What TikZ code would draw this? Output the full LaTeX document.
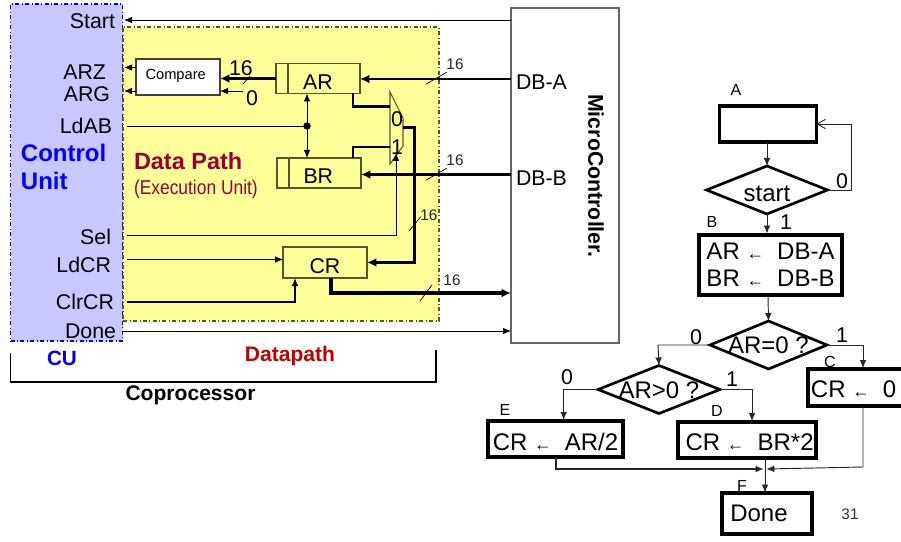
\documentclass[tikz,border=0pt]{standalone}
\usepackage{fontspec}
\usepackage{graphicx}
\setmainfont{Liberation Sans}
\usetikzlibrary{arrows.meta,shapes.geometric}
\definecolor{cuFill}{HTML}{C8C8FF}
\definecolor{dpFill}{HTML}{FFFF99}
\definecolor{olive}{HTML}{55552F}
\definecolor{dpRed}{HTML}{990033}
\definecolor{dpRedB}{HTML}{C00000}
\definecolor{cuBlue}{HTML}{0000FF}
\newcommand{\lar}{{\fontsize{13}{13}\selectfont ←}}
\newcommand{\low}[2]{\smash{\raisebox{-#1pt}{#2}}}
\newcommand{\dectext}[2]{\smash{\makebox[0pt]{\raisebox{-#1pt}{#2}}}}
\tikzset{
  sz/.style 2 args={minimum width=#1*0.75pt,minimum height=#2*0.75pt,inner sep=0pt,outer sep=0pt},
  lbl/.style={inner sep=0pt,outer sep=0pt,font=\fontsize{16}{16}\selectfont},
  lblr/.style={lbl,anchor=east},
  lbll/.style={lbl,anchor=west},
  tiny16/.style={inner sep=0pt,font=\fontsize{11.5}{12}\selectfont,text=black!85},
  letter/.style={inner sep=0pt,font=\fontsize{12}{12}\selectfont},
  dpbox/.style={draw=olive,line width=0.8pt,fill=dpFill,font=\fontsize{16}{16}\selectfont},
  fcbox/.style={draw=black,line width=2.3pt,fill=white,font=\fontsize{18}{20}\selectfont,align=center},
  dec/.style={diamond,draw=black,line width=2pt,fill=white,inner sep=0pt,outer sep=0pt,aspect=2.4,font=\fontsize{18}{18}\selectfont},
  thin1/.style={line width=0.7pt,draw=black},
  bus/.style={line width=2pt,draw=black},
  arr/.style={-{Latex[length=6pt,width=5pt]}},
  busarr/.style={-{Latex[length=7pt,width=6.5pt]}},
  tick/.style={line width=0.5pt,draw=black},
  fcflow/.style={line width=0.7pt,draw=black!85}
}
\begin{document}
\begin{tikzpicture}[x=0.75pt,y=-0.75pt]
\useasboundingbox (0,0) rectangle (901,542);
% regions
\node[sz={112}{337},draw=cuBlue,fill=cuFill,dash dot,line width=0.8pt] (cu) at (66.5,172.5) {};
\node[sz={316}{294},draw=olive,fill=dpFill,dash dot,line width=0.9pt] (dp) at (281,174) {};
\node[sz={108}{335},draw=black!60,fill=white,line width=1pt] (mc) at (565,175.5) {};
\node[rotate=-90,font=\fontsize{16}{16}\selectfont\bfseries,inner sep=0pt] (mctext) at (596,176) {MicroController.};
% datapath boxes
\node[sz={84}{36},draw=black!75,fill=white,line width=0.8pt,font=\fontsize{11}{11}\selectfont] (cmp) at (178,77) {\low{1.7}{\kern-3.5pt Compare}};
\node[sz={84}{30},dpbox] (ar) at (318,78.5) {\low{8}{AR}};
\node[sz={84}{30},dpbox] (br) at (319,173) {\low{8}{\kern-1pt BR}};
\node[sz={84}{31},dpbox] (cr) at (325,262.5) {\low{8}{CR}};
\draw[olive,line width=0.8pt] (288,63.5) -- (288,93.5);
\draw[olive,line width=0.8pt] (289,158) -- (289,188);
% mux
\coordinate (m1) at (390,92);
\coordinate (m2) at (403,118);
\coordinate (m3) at (403,146);
\coordinate (m4) at (390,164);
\draw[olive,line width=0.8pt,fill=dpFill] (m1) -- (m2) -- (m3) -- (m4) -- cycle;
\node[lbl] (m0t) at (397,119) {0};
\node[lbl] (m1t) at (397,147) {1};
\coordinate (mIn0) at (390,106.5);
\coordinate (mIn1) at (390,147);
\coordinate (mOut) at (403,127.5);
\coordinate (mSel) at (396,153);
% MC ports
\coordinate (pStart) at (511,20);
\coordinate (pA) at (511,79);
\coordinate (pB) at (511,174.5);
\coordinate (pC) at (511,293);
\coordinate (pD) at (511,331);
% left-side signal ends
\coordinate (sStart) at (124,20);
\coordinate (sArz) at (124,67.5);
\coordinate (sArg) at (124,91);
\coordinate (sLd) at (127,126);
\coordinate (sSel) at (127,235);
\coordinate (sLdc) at (127,259.5);
\coordinate (sClr) at (127,302);
\coordinate (sDone) at (123,331);
% signals
\draw[thin1,arr] (pStart) -- (sStart);
\draw[thin1,arr] (cmp.west |- sArz) -- (sArz);
\draw[thin1,arr] (cmp.west |- sArg) -- (sArg);
\draw[bus,busarr] (ar.west) -- (cmp.east |- ar.west);
\coordinate (zero) at (243,91);
\draw[thin1,arr] (zero) -- (cmp.east |- zero);
\coordinate (t0a) at (243,84); \coordinate (t0b) at (250,76);
\draw[tick] (t0a) -- (t0b);
\coordinate (dot) at (307,126);
\draw[thin1] (sLd) -- (dot);
\fill (dot) circle (3.7);
\draw[thin1,arr] (dot) -- (dot |- ar.south);
\draw[thin1,arr] (dot) -- (dot |- br.north);
\draw[bus,busarr] (pA) -- (pA -| ar.east);
\draw[bus,busarr] (pB) -- (pB -| br.east);
\draw[bus] (353,93.5) -- (353,106.5) -- (mIn0);
\draw[bus] (353,158) -- (353,147) -- (mIn1);
\draw[thin1,arr] (sSel) -- (396,235) -- (mSel);
\draw[line width=2.6pt,draw=black,busarr] (mOut) -- (414.5,127.5) |- (cr.east);
\draw[thin1,arr] (sLdc) -- (sLdc -| cr.west);
\draw[line width=1.1pt,draw=black,arr] (sClr) -- (295,302) -- (295,278);
\draw[line width=2.4pt,draw=black,busarr] (331,278) |- (pC);
\draw[thin1,arr] (sDone) -- (pD);
% ticks
\draw[tick] (425.7,84.3) -- (446.7,72.3);
\draw[tick] (425.7,180.3) -- (446.7,168.3);
\draw[tick] (409,231) -- (420.7,216.7);
\draw[tick] (420,301) -- (432,285);
\node[tiny16] (n1) at (455,64) {16};
\node[tiny16] (n2) at (455,160) {16};
\node[tiny16] (n3) at (429,215.5) {16};
\node[tiny16] (n4) at (452,280) {16};
\node[lbl] (n5) at (241,68) {16};
\node[lbl] (n6) at (252,98) {0};
% left labels
\node[lblr] (lStart) at (115,21.5) {Start};
\node[lblr] (lArz) at (106,72) {ARZ};
\node[lblr] (lArg) at (110,94) {ARG};
\node[lblr] (lLd) at (112,126) {LdAB};
\node[lblr] (lSel) at (111,237) {Sel};
\node[lblr] (lLdc) at (111,265) {LdCR};
\node[lblr] (lClr) at (114,301.5) {ClrCR};
\node[lblr] (lDone) at (116,331.5) {Done};
\node[lbll,font=\fontsize{18}{18}\selectfont\bfseries,text=cuBlue] (c1) at (21,153) {Control};
\node[lbll,font=\fontsize{18}{18}\selectfont\bfseries,text=cuBlue] (c2) at (21,181) {Unit};
\node[lbll,font=\fontsize{17.6}{18}\selectfont\bfseries,text=dpRed] (d1) at (134,161) {Data Path};
\node[lbll,text=dpRed,font=\fontsize{15}{15}\selectfont] (d2) at (134,189) {\scalebox{.87}[1]{(Execution Unit)}};
\node[lbl,font=\fontsize{15.5}{16}\selectfont\bfseries,text=cuBlue] (c3) at (62,358) {CU};
\node[lbl,font=\fontsize{15.8}{16}\selectfont\bfseries,text=dpRedB] (d3) at (290,356) {Datapath};
\node[lbl,font=\fontsize{15.8}{16}\selectfont\bfseries] (cp) at (190.5,395) {Coprocessor};
\node[lbll] (dba) at (516,82) {DB-A};
\node[lbll] (dbb) at (516,178) {DB-B};
% bracket
\coordinate (b1) at (10.5,353);
\coordinate (b2) at (10.5,382);
\coordinate (b3) at (436,382);
\coordinate (b4) at (436,350);
\draw[line width=1.1pt] (b1) -- (b2) -- (b3) -- (b4);
% flowchart
\node[fcbox,sz={97}{36}] (A) at (768,124) {};
\node[dec,sz={121}{48}] (start) at (767,190) {\dectext{9}{start}};
\node[fcbox,sz={143}{60}] (B) at (770.5,265) {AR \lar\ \ DB-A\\BR \lar\ \ DB-B};
\node[dec,sz={117}{48}] (d0) at (768.5,345) {\dectext{6.7}{AR=0 ?}};
\node[dec,sz={122}{48}] (dg) at (659,389.5) {\dectext{7}{AR>0 ?}};
\node[fcbox,sz={110}{37},anchor=west] (C) at (808,387.5) {\low{7.6}{\hspace{-14pt}CR \lar\ \ 0}};
\node[fcbox,sz={135}{36}] (E) at (555.5,439) {\low{8.5}{CR \lar\ \ AR/2}};
\node[fcbox,sz={138}{36}] (D) at (747,440) {\low{7.7}{\kern4pt CR \lar\ \ BR*2}};
\node[fcbox,sz={90}{41}] (F) at (767,513.5) {\low{6.2}{\hspace{-12pt}Done}};
\draw[fcflow,arr] (767,142) -- (start.north);
\draw[fcflow,arr] (767,214) -- (767,233.5);
\draw[fcflow,-{Straight Barb[length=6pt,width=7pt]}] (start.east) -- (851.7,190) |- (A.east);
\draw[fcflow,arr] (768,295) -- (d0.north);
\draw[fcflow,arr] (d0.west) -- (658,345) -- (dg.north);
\draw[fcflow,arr] (d0.east) -- (863,345) -- (863,368);
\draw[fcflow,arr] (dg.west) -- (563.7,389.5) -- (563.7,420);
\draw[fcflow,arr] (dg.east) -- (752,389.5) -- (752,421);
\coordinate (join) at (765,469);
\draw[fcflow,line width=1pt,arr] (556,457) |- ([xshift=-1]join);
\draw[fcflow,arr] (863,406) -- (863,467) -- ([xshift=1]join);
\draw[fcflow,arr] (765,458) -- (765,492.5);
\node[letter] (la) at (736,90) {A};
\node[letter] (lb) at (712,222) {B};
\node[letter] (lc) at (830,361.5) {C};
\node[letter] (ld) at (717,411) {D};
\node[letter] (le) at (505,410) {E};
\node[letter] (lf) at (742,486) {F};
\node[lbl] (z1) at (842,181) {0};
\node[lbl] (o1) at (786,222) {1};
\node[lbl] (z2) at (696,337) {0};
\node[lbl] (o2) at (842,335) {1};
\node[lbl] (z3) at (567,377) {0};
\node[lbl] (o3) at (732,379) {1};
\node[inner sep=0pt,font=\fontsize{11.5}{12}\selectfont,text=black!80] (pg) at (850,514) {31};
\end{tikzpicture}
\end{document}
